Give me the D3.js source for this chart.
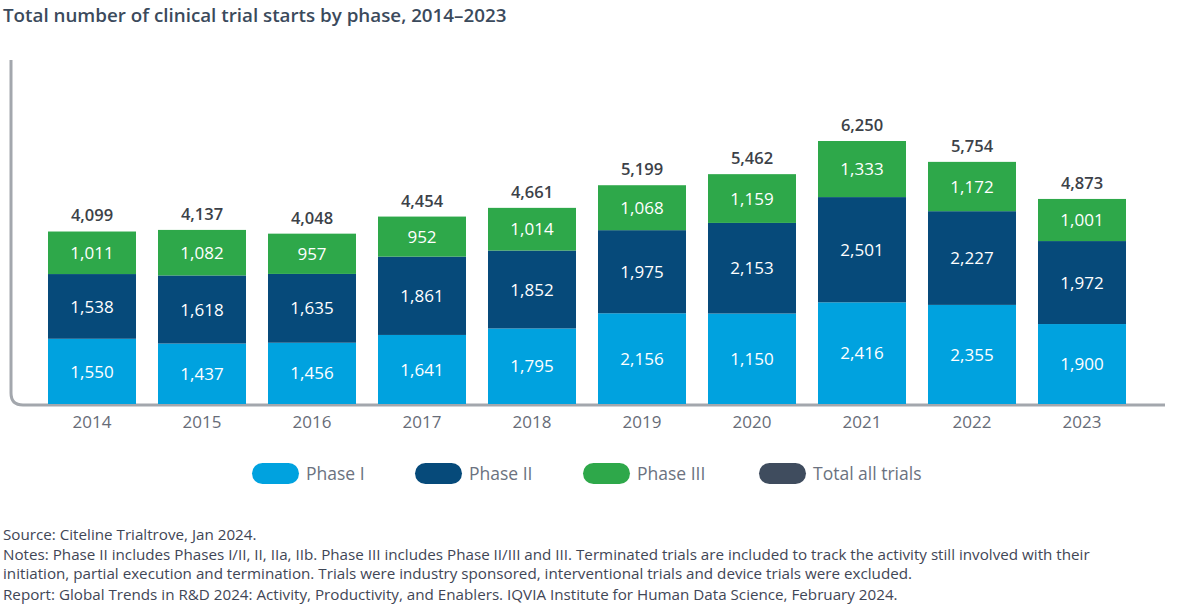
<!DOCTYPE html>
<html>
<head>
<meta charset="utf-8">
<script src="https://cdn.jsdelivr.net/npm/d3@7"></script>
<style>
  body { margin: 0; background: #fff; font-family: "Open Sans", "Noto Sans", sans-serif; }
</style>
</head>
<body>
<div id="chart"></div>
<script>
const years = ['2014', '2015', '2016', '2017', '2018', '2019', '2020', '2021', '2022', '2023'];
// 2020 Phase I bar is drawn at 2,150 (totals add up), the source prints "1,150"
const phaseI = [1550, 1437, 1456, 1641, 1795, 2156, 2150, 2416, 2355, 1900];
const phaseII = [1538, 1618, 1635, 1861, 1852, 1975, 2153, 2501, 2227, 1972];
const phaseIII = [1011, 1082, 957, 952, 1014, 1068, 1159, 1333, 1172, 1001];
const totals = [4099, 4137, 4048, 4454, 4661, 5199, 5462, 6250, 5754, 4873];
const printedLabels = { '2020-Phase I': '1,150' };

const seriesNames = ['Phase I', 'Phase II', 'Phase III'];
const legendNames = ['Phase I', 'Phase II', 'Phase III', 'Total all trials'];
const colors = ['#00a2df', '#064a7a', '#2ea84a', '#3f4c5e'];

const W = 1180, H = 614;
const svg = d3.select('#chart').append('svg').attr('width', W).attr('height', H);

svg.append('text')
  .attr('x', 3).attr('y', 22)
  .attr('font-size', 18.8).attr('font-weight', 600)
  .attr('fill', '#3b4a5c')
  .text('Total number of clinical trial starts by phase, 2014–2023');

const rows = years.map((y, i) => ({ year: y, 'Phase I': phaseI[i], 'Phase II': phaseII[i], 'Phase III': phaseIII[i], total: totals[i] }));
const stacked = d3.stack().keys(seriesNames)(rows);

const x = d3.scaleBand().domain(years).range([37, 1137]).paddingInner(0.2).paddingOuter(0.1);
const y = d3.scaleLinear().domain([0, 6250]).range([404, 141]);

// axis frame: vertical line with rounded corner into the baseline
const r = 12;
svg.append('path')
  .attr('d', `M11,60 V${405 - r} Q11,405 ${11 + r},405 H1165`)
  .attr('fill', 'none').attr('stroke', '#a3a7ad').attr('stroke-width', 3);

const fmt = d3.format(',');

stacked.forEach((layer, li) => {
  const g = svg.append('g');
  g.selectAll('rect').data(layer).enter().append('rect')
    .attr('x', d => x(d.data.year))
    .attr('y', d => y(d[1]))
    .attr('width', x.bandwidth())
    .attr('height', d => y(d[0]) - y(d[1]))
    .attr('fill', colors[li]);
  g.selectAll('text').data(layer).enter().append('text')
    .attr('x', d => x(d.data.year) + x.bandwidth() / 2)
    .attr('y', d => (y(d[0]) + y(d[1])) / 2)
    .attr('dy', '0.36em')
    .attr('text-anchor', 'middle')
    .attr('font-size', 17).attr('fill', '#fff')
    .text(d => printedLabels[d.data.year + '-' + layer.key] || fmt(d[1] - d[0]));
});

svg.append('g').selectAll('text').data(rows).enter().append('text')
  .attr('x', d => x(d.year) + x.bandwidth() / 2)
  .attr('y', d => y(d.total) - 16)
  .attr('dy', '0.36em')
  .attr('text-anchor', 'middle')
  .attr('font-size', 16.5).attr('font-weight', 600).attr('fill', '#3c4148')
  .text(d => fmt(d.total));

const xAxis = svg.append('g').attr('transform', 'translate(0,404)')
  .call(d3.axisBottom(x).tickSize(0).tickPadding(12));
xAxis.select('.domain').remove();
xAxis.selectAll('text').attr('font-size', 17).attr('fill', '#676c78')
  .attr('font-family', '"Open Sans", "Noto Sans", sans-serif');

// legend
const legendX = [252, 415, 583, 759];
const lg = svg.append('g').selectAll('g').data(legendNames).enter().append('g')
  .attr('transform', (d, i) => `translate(${legendX[i]},463)`);
lg.append('rect').attr('width', 47).attr('height', 21).attr('rx', 10.5)
  .attr('fill', (d, i) => colors[i]);
lg.append('text').attr('x', 54).attr('y', 10.5).attr('dy', '0.36em')
  .attr('font-size', 17.5).attr('fill', '#6b7280').text(d => d);

const notes = [
  'Source: Citeline Trialtrove, Jan 2024.',
  'Notes: Phase II includes Phases I/II, II, IIa, IIb. Phase III includes Phase II/III and III. Terminated trials are included to track the activity still involved with their',
  'initiation, partial execution and termination. Trials were industry sponsored, interventional trials and device trials were excluded.',
  'Report: Global Trends in R&D 2024: Activity, Productivity, and Enablers. IQVIA Institute for Human Data Science, February 2024.'
];
const noteY = [540, 560, 579, 600];
svg.append('g').selectAll('text').data(notes).enter().append('text')
  .attr('x', 3).attr('y', (d, i) => noteY[i])
  .attr('font-size', 15.2).attr('fill', '#3f4656')
  .text(d => d);
</script>
</body>
</html>
